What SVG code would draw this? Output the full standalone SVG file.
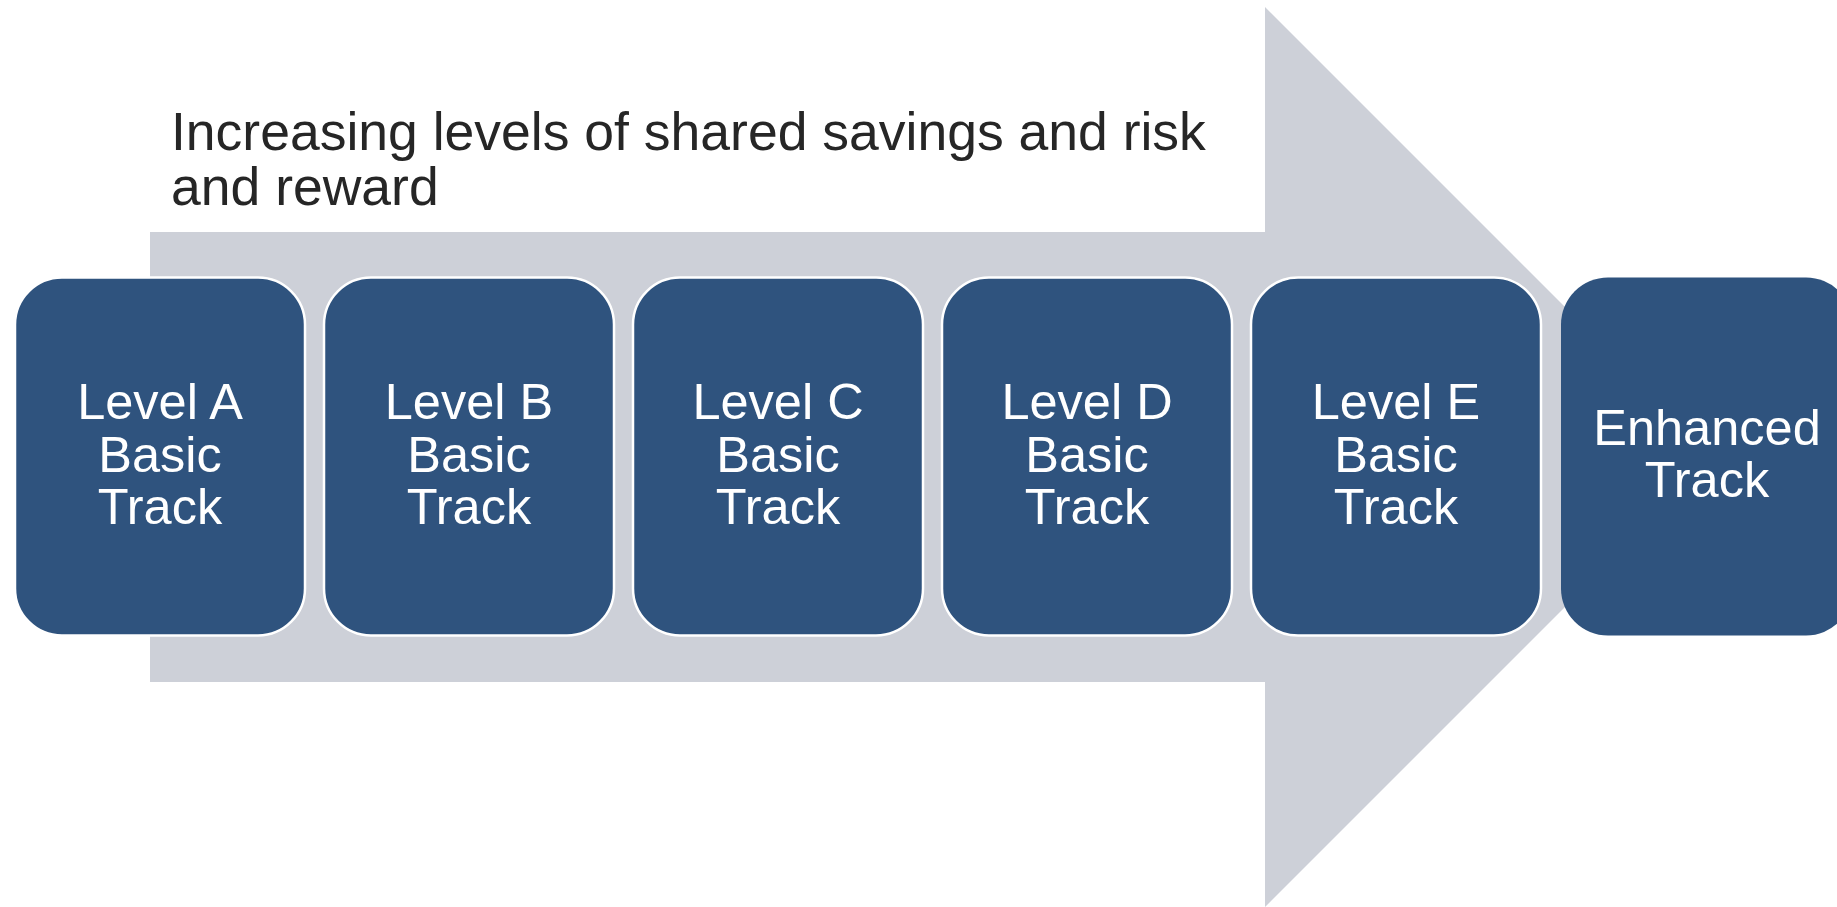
<svg xmlns="http://www.w3.org/2000/svg" width="1837" height="907" viewBox="0 0 1837 907">
  <style>
    .arrow { fill: #CDD0D8; }
    .box { fill: #2F537E; stroke: #FFFFFF; stroke-width: 2.5; }
    .box-plain { fill: #2F537E; }
    .label { font-family: "Liberation Sans", Arial, sans-serif; font-size: 50.5px; fill: #FFFFFF; text-anchor: middle; }
    .title { font-family: "Liberation Sans", Arial, sans-serif; font-size: 53.5px; fill: #262626; }
  </style>

  <!-- Background progression arrow -->
  <g id="connectors">
    <polygon class="arrow" points="150,232 1265,232 1265,7 1715,457 1265,907 1265,682 150,682"/>
  </g>

  <g id="title">
    <text class="title" x="171" y="150">Increasing levels of shared savings and risk</text>
    <text class="title" x="171" y="205">and reward</text>
  </g>

  <g id="level-a">
    <rect class="box" x="15" y="277.5" width="290" height="358" rx="47" ry="47"/>
    <text class="label" x="160" y="419">Level A</text>
    <text class="label" x="160" y="472">Basic</text>
    <text class="label" x="160" y="524">Track</text>
  </g>

  <g id="level-b">
    <rect class="box" x="324" y="277.5" width="290" height="358" rx="47" ry="47"/>
    <text class="label" x="469" y="419">Level B</text>
    <text class="label" x="469" y="472">Basic</text>
    <text class="label" x="469" y="524">Track</text>
  </g>

  <g id="level-c">
    <rect class="box" x="633" y="277.5" width="290" height="358" rx="47" ry="47"/>
    <text class="label" x="778" y="419">Level C</text>
    <text class="label" x="778" y="472">Basic</text>
    <text class="label" x="778" y="524">Track</text>
  </g>

  <g id="level-d">
    <rect class="box" x="942" y="277.5" width="290" height="358" rx="47" ry="47"/>
    <text class="label" x="1087" y="419">Level D</text>
    <text class="label" x="1087" y="472">Basic</text>
    <text class="label" x="1087" y="524">Track</text>
  </g>

  <g id="level-e">
    <rect class="box" x="1251" y="277.5" width="290" height="358" rx="47" ry="47"/>
    <text class="label" x="1396" y="419">Level E</text>
    <text class="label" x="1396" y="472">Basic</text>
    <text class="label" x="1396" y="524">Track</text>
  </g>

  <g id="enhanced-track">
    <rect class="box-plain" x="1561" y="277.5" width="292" height="358" rx="47" ry="47"/>
    <text class="label" x="1707" y="445">Enhanced</text>
    <text class="label" x="1707" y="497">Track</text>
  </g>
</svg>
